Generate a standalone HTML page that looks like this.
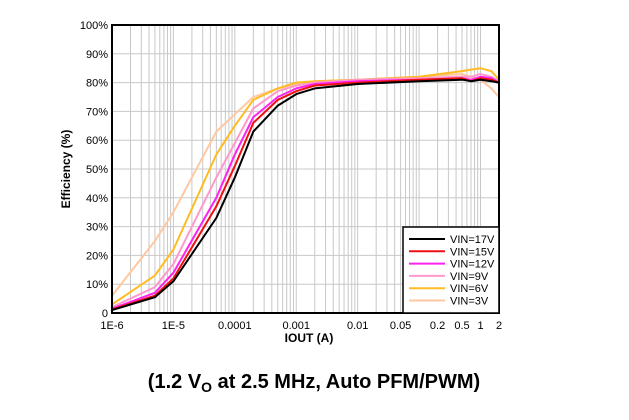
<!DOCTYPE html>
<html><head><meta charset="utf-8"><style>
body{margin:0;background:#fff;}
svg text{font-family:"Liberation Sans",Arial,sans-serif;}
</style></head><body>
<svg id="chart" width="629" height="415" xmlns="http://www.w3.org/2000/svg">
<g id="grid"></g>
<g id="series"></g>
<rect x="112" y="25" width="387" height="288" fill="none" stroke="#000" stroke-width="2"/>
<g id="yticks" font-size="11" text-anchor="end"></g>
<g id="xticks" font-size="11" text-anchor="middle"></g>
<text x="309" y="342" font-size="12" font-weight="bold" text-anchor="middle">IOUT (A)</text>
<text transform="translate(70,169) rotate(-90)" font-size="12" font-weight="bold" text-anchor="middle">Efficiency (%)</text>
<text x="314" y="388" font-size="20" font-weight="bold" text-anchor="middle">(1.2 V<tspan font-size="14" dy="4">O</tspan><tspan dy="-4"> at 2.5 MHz, Auto PFM/PWM)</tspan></text>
<g id="legend"></g>
</svg>
<script>
const xs=[1e-6,5e-6,1e-5,5e-5,1e-4,2e-4,5e-4,1e-3,2e-3,1e-2,0.1,0.5,0.7,1,1.5,2];
const seriesNames=["VIN=17V","VIN=15V","VIN=12V","VIN=9V","VIN=6V","VIN=3V"];
const seriesColors=["#000000","#ee1111","#ff22ee","#ff99cc","#ffbb22","#ffc8a0"];
const vin17=[1,5.5,11,33,47,63,72,76,78,79.5,80.5,81,80.5,81,80.5,80];
const vin15=[1.2,6,12,37,51,66,74,77,79,80,81,81.5,80.5,81.5,81,80];
const vin12=[1.5,7,14,40,55,68,75,78,79.5,80.5,81,81.5,81,82,81.5,80];
const vin9=[2,9,17,47,59,71,77,79,80,81,81.5,82,82,83,82,80.5];
const vin6=[3,13,22,55,65,74,78,80,80.5,81,82,84,84.5,85,84,81];
const vin3=[6,25,35,63,69,75,78,79.5,80.5,81,82,83,82,81,78,75];
const yTickLabels=["0","10%","20%","30%","40%","50%","60%","70%","80%","90%","100%"];
const xTickVals=[1e-6,1e-5,1e-4,1e-3,1e-2,0.05,0.2,0.5,1,2];
const xTickLabels=["1E-6","1E-5","0.0001","0.001","0.01","0.05","0.2","0.5","1","2"];
const L=112,R=499,T=25,B=313,lmin=-6,lmax=Math.log10(2);
const X=v=>L+(Math.log10(v)-lmin)/(lmax-lmin)*(R-L);
const Y=v=>B-v/100*(B-T);
const NS="http://www.w3.org/2000/svg";
function mk(t,a,p){const e=document.createElementNS(NS,t);for(const k in a)e.setAttribute(k,a[k]);p.appendChild(e);return e;}
const grid=document.getElementById('grid');
for(let d=-6;d<=0;d++)for(let m=1;m<10;m++){const v=m*Math.pow(10,d);if(v>2)break;const x=X(v);
const l=mk('line',{x1:x,x2:x,y1:T,y2:B,stroke:'#c8c8c8','stroke-width':1},grid);

}
const yt=document.getElementById('yticks');
yTickLabels.forEach((s,i)=>{const y=Y(i*10);
const l=mk('line',{x1:L,x2:R,y1:y,y2:y,stroke:'#c8c8c8','stroke-width':1},grid);


const t=mk('text',{x:L-4,y:y+4},yt);t.textContent=s;

});
const xt=document.getElementById('xticks');
xTickVals.forEach((v,i)=>{const t=mk('text',{x:X(v),y:B+16},xt);t.textContent=xTickLabels[i];

});
const data=[vin17,vin15,vin12,vin9,vin6,vin3];
const sg=document.getElementById('series');
for(let s=data.length-1;s>=0;s--){const d=data[s].map((v,i)=>(i?'L':'M')+X(xs[i]).toFixed(1)+','+Y(v).toFixed(1)).join('');
const p=mk('path',{d:d,fill:'none',stroke:seriesColors[s],'stroke-width':2,'stroke-linejoin':'round'},sg);

}
const lg=document.getElementById('legend');
const box=mk('rect',{x:403,y:227,width:96,height:86,fill:'#fff',stroke:'#000','stroke-width':1.5},lg);


seriesNames.forEach((n,i)=>{const y=239+i*12.3;
const l=mk('line',{x1:409,x2:445,y1:y,y2:y,stroke:seriesColors[i],'stroke-width':2},lg);


const t=mk('text',{x:450,y:y+4,'font-size':11},lg);t.textContent=n;

});
</script>
</body></html>
